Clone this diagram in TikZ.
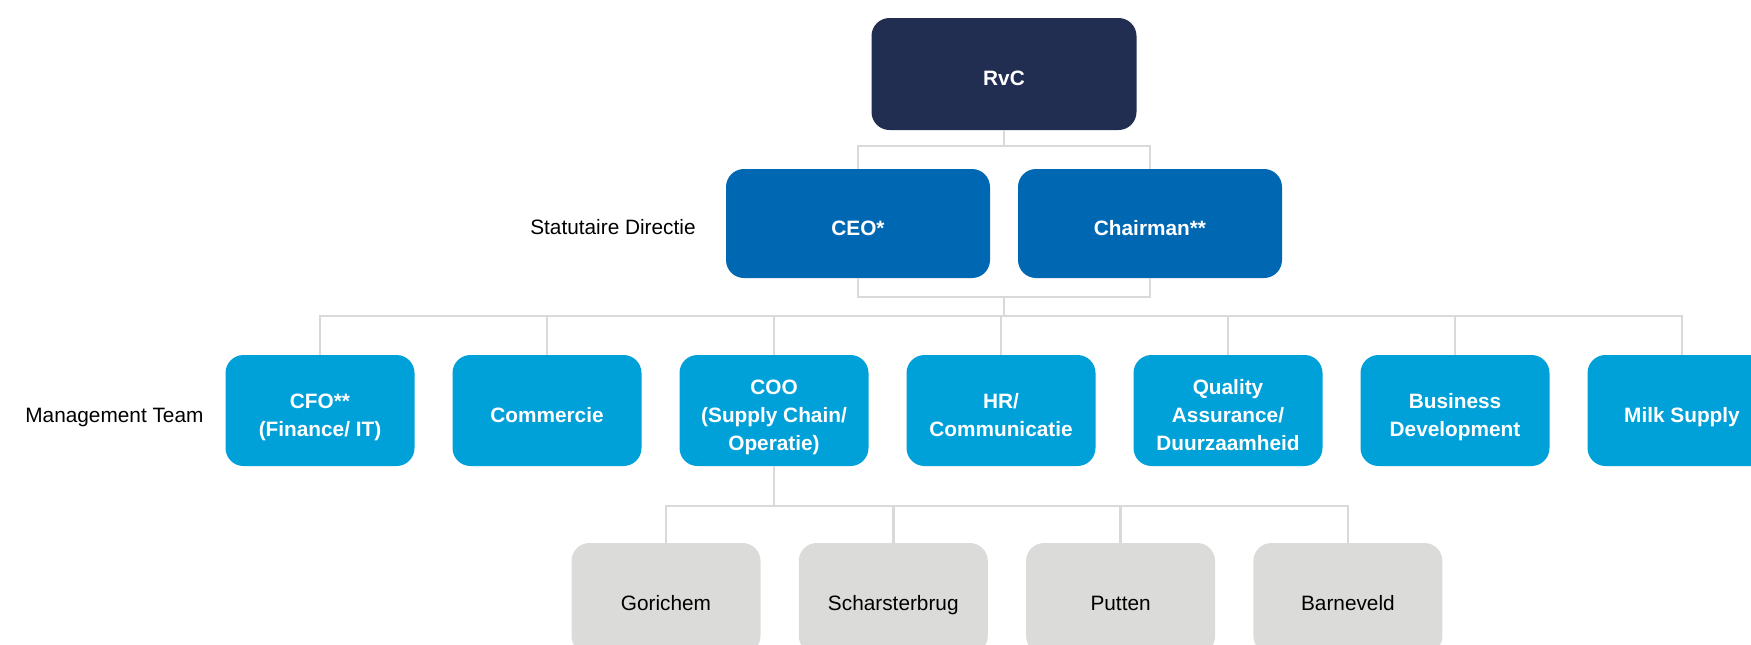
\documentclass[tikz,border=0pt]{standalone}
\usepackage{fontspec}
\setmainfont{Liberation Sans}
\usetikzlibrary{positioning}
\definecolor{rvcblue}{HTML}{222D52}
\definecolor{dirblue}{HTML}{0068B3}
\definecolor{mtblue}{HTML}{00A0D8}
\definecolor{sitegray}{HTML}{DBDBDA}
\definecolor{linegray}{HTML}{D9D9D9}
\newcommand\boxtop{\rule{0pt}{14.4pt}}
\newcommand\boxbot{\rule[-2.5pt]{0pt}{0pt}}

\begin{document}
\begin{tikzpicture}[
            x=0.5pt, y=-0.5pt,
            box/.style={rounded corners=9pt, inner sep=2pt, align=center, font=\fontsize{10.4}{14}\selectfont},
            rvcbox/.style={box, fill=rvcblue, text=white, font=\fontsize{10.4}{14}\selectfont\bfseries, minimum width=132.5pt, minimum height=56pt},
            dirbox/.style={box, fill=dirblue, text=white, font=\fontsize{10.4}{14}\selectfont\bfseries, minimum width=132pt, minimum height=54.5pt},
            mtbox/.style={box, fill=mtblue, text=white, font=\fontsize{10.4}{14}\selectfont\bfseries, minimum width=94.5pt, minimum height=55.5pt},
            sitebox/.style={box, fill=sitegray, text=black, minimum width=94.5pt, minimum height=55.5pt},
            lbl/.style={font=\fontsize{10.4}{14}\selectfont, inner sep=0pt},
            conn/.style={draw=linegray, line width=1.3pt}
        ]
          \clip (0,0) rectangle (1751,644);
          % top levels
          \node[rvcbox] (rvc) at (1004,74) {\boxtop RvC\boxbot};
          \node[dirbox] (ceo) at (858,223.5) {\boxtop CEO*\boxbot};
          \node[dirbox] (chair) at (1150,223.5) {\boxtop Chairman**\boxbot};
          \node[lbl, anchor=base east] (sdlbl) at (696,234) {Statutaire Directie};
          % management team
          \foreach \name/\txt [count=\i] in {cfo/{CFO**\\(Finance/ IT)}, com/Commercie, coo/{COO\\(Supply Chain/\\Operatie)},
                hr/{HR/\\Communicatie}, qa/{Quality\\Assurance/\\Duurzaamheid}, bd/{Business\\Development}, milk/Milk Supply}
            \node[mtbox] (\name) at ({320+227*(\i-1)},410.5) {\boxtop\txt\boxbot};
          \node[lbl, anchor=base west] (mtlbl) at (25,422) {Management Team};
          % sites
          \foreach \name/\txt [count=\i] in {gor/Gorichem, sch/Scharsterbrug, put/Putten, bar/Barneveld}
            \node[sitebox] (\name) at ({666+227.3*(\i-1)},598.5) {\boxtop\txt\boxbot};
          % connectors
          \coordinate (j1) at (1004,146);
          \coordinate (j2) at (1004,297);
          \coordinate (j3) at (1004,316);
          \coordinate (j4) at (coo.south |- 0,506);
          \draw[conn] (rvc.south) -- (j1);
          \draw[conn] (ceo.north) |- (j1) -| (chair.north);
          \draw[conn] (ceo.south) |- (j2) -| (chair.south);
          \draw[conn] (j2) -- (j3);
          \draw[conn] (cfo.north) |- (j3) -| (milk.north);
          \foreach \name in {com,coo,hr,qa,bd} \draw[conn] (\name.north) -- (\name.north |- j3);
          \draw[conn] (coo.south) -- (j4);
          \draw[conn] (gor.north) |- (j4) -| (bar.north);
          \foreach \name in {sch,put} \draw[conn] (\name.north) -- (\name.north |- j4);
        \end{tikzpicture}
\end{document}
